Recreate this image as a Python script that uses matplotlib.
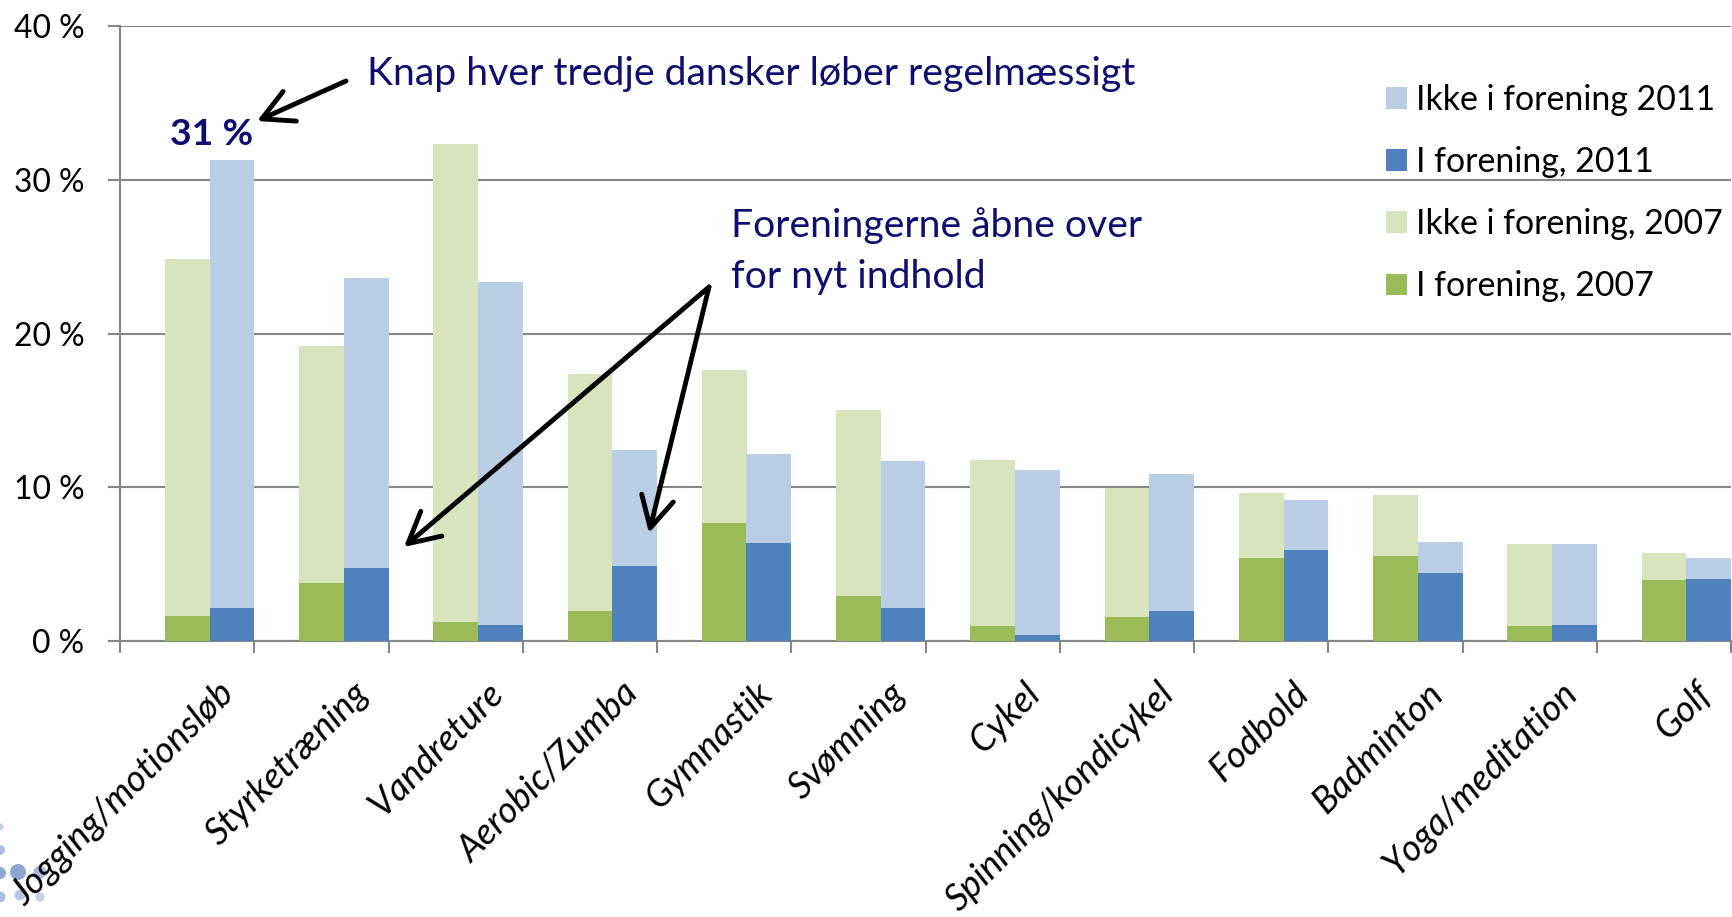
import matplotlib
matplotlib.use("Agg")
import matplotlib.pyplot as plt
import matplotlib.transforms as mtransforms
from matplotlib.patches import Patch, Circle
import numpy as np

# ---------------- data ----------------
categories = ["Jogging/motionsløb", "Styrketræning", "Vandreture", "Aerobic/Zumba",
              "Gymnastik", "Svømning", "Cykel", "Spinning/kondicykel", "Fodbold",
              "Badminton", "Yoga/meditation", "Golf"]
i_forening_2007 = [1.6, 3.8, 1.25, 1.95, 7.65, 2.95, 1.0, 1.55, 5.4, 5.5, 1.0, 4.0]
ikke_forening_2007 = [23.25, 15.4, 31.05, 15.4, 9.95, 12.05, 10.75, 8.4, 4.2, 4.0, 5.3, 1.75]
i_forening_2011 = [2.15, 4.75, 1.05, 4.9, 6.4, 2.15, 0.4, 1.95, 5.95, 4.4, 1.05, 4.05]
ikke_forening_2011 = [29.15, 18.85, 22.3, 7.55, 5.75, 9.55, 10.7, 8.9, 3.25, 2.05, 5.25, 1.35]
y_ticks = [0, 10, 20, 30, 40]
y_tick_labels = ["0 %", "10 %", "20 %", "30 %", "40 %"]
legend_labels = ["Ikke i forening 2011", "I forening, 2011",
                 "Ikke i forening, 2007", "I forening, 2007"]

C_LB = "#B9CDE5"
C_B = "#4F81BD"
C_LG = "#D7E4BD"
C_G = "#9BBB59"
GRID = "#868686"
NAVY = "#0E0E72"
FONT = ["Lato", "DejaVu Sans"]

W, H = 1732, 917
fig = plt.figure(figsize=(W / 100, H / 100), dpi=100)
plt.rcParams["font.family"] = FONT
renderer = fig.canvas.get_renderer()


def fit(s, target, **kw):
    t = fig.text(0, 0, s, fontsize=50, **kw)
    w = t.get_window_extent(renderer).width
    t.remove()
    return 50.0 * target / w


def fp(x, y):
    return (x / W, 1 - y / H)


ax_left, ax_right, ax_top, ax_bot = 120, 1731, 26, 641
ax = fig.add_axes([ax_left / W, (H - ax_bot) / H, (ax_right - ax_left) / W, (ax_bot - ax_top) / H])

x = np.arange(len(categories))
bw = 1.0 / 3.0
ax.bar(x + 0.5, i_forening_2007, width=bw, color=C_G, linewidth=0, zorder=3)
ax.bar(x + 0.5, ikke_forening_2007, width=bw, bottom=i_forening_2007, color=C_LG, linewidth=0, zorder=3)
ax.bar(x + 5 / 6, i_forening_2011, width=bw, color=C_B, linewidth=0, zorder=3)
ax.bar(x + 5 / 6, ikke_forening_2011, width=bw, bottom=i_forening_2011, color=C_LB, linewidth=0, zorder=3)

ax.set_xlim(0, len(categories))
ax.set_ylim(0, 40)
ax.set_yticks(y_ticks)
tick_fs = fit("40 %", 70.6)
ax.set_yticklabels(y_tick_labels, fontsize=tick_fs, color="black")
ax.yaxis.grid(True, color=GRID, linewidth=1.5, zorder=0)
ax.set_axisbelow(True)

cat_fs = tick_fs * 1.15
ax.set_xticks(np.arange(len(categories) + 1))
ax.set_xticklabels([])
ax.set_xticks(x + 2 / 3, minor=True)
ax.set_xticklabels(categories, minor=True, fontsize=cat_fs, style="italic",
                   rotation=45, ha="right", va="center", rotation_mode="anchor")
ax.tick_params(axis="x", which="major", length=8.6, width=1.5, color=GRID, direction="out")
ax.tick_params(axis="x", which="minor", length=0, pad=34)
ax.tick_params(axis="y", length=8.6, width=1.5, color=GRID, direction="out", pad=17)
off = mtransforms.ScaledTranslation(20 / 100, 0, fig.dpi_scale_trans)
for lbl in ax.get_xticklabels(minor=True):
    lbl.set_transform(lbl.get_transform() + off)

for s in ["top", "right"]:
    ax.spines[s].set_visible(False)
for s in ["left", "bottom"]:
    ax.spines[s].set_color(GRID)
    ax.spines[s].set_linewidth(1.5)

# legend
leg_fs = fit("Ikke i forening, 2007", 307)
leg_px = leg_fs * 100 / 72
handles = [Patch(facecolor=C_LB, edgecolor="none"), Patch(facecolor=C_B, edgecolor="none"),
           Patch(facecolor=C_LG, edgecolor="none"), Patch(facecolor=C_G, edgecolor="none")]
ax.legend(handles, legend_labels, loc="upper left", bbox_to_anchor=fp(1386, 84),
          bbox_transform=fig.transFigure, frameon=False, fontsize=leg_fs,
          handlelength=21 / leg_px, handleheight=21 / leg_px, handletextpad=9.5 / leg_px,
          labelspacing=0.89, borderpad=0, borderaxespad=0)

# annotations
a_fs = fit("Knap hver tredje dansker løber regelmæssigt", 770)
fig.text(*fp(367, 85), "Knap hver tredje dansker løber regelmæssigt", fontsize=a_fs,
         color=NAVY, ha="left", va="baseline")
b_fs = fit("Foreningerne åbne over", 411)
fig.text(*fp(731, 237), "Foreningerne åbne over", fontsize=b_fs, color=NAVY, ha="left", va="baseline")
fig.text(*fp(731, 288), "for nyt indhold", fontsize=b_fs, color=NAVY, ha="left", va="baseline")
c_fs = fit("31 %", 83, weight="bold")
fig.text(*fp(169.5, 145), "31 %", fontsize=c_fs, weight="bold", color=NAVY, ha="left", va="baseline")

arrow_kw = dict(arrowstyle="->,head_length=0.85,head_width=0.45", lw=3.5, color="black",
                shrinkA=0, shrinkB=0, mutation_scale=26)
for (sx, sy), (tx, ty) in [((346, 81), (257, 121)), ((709, 287), (404, 547)), ((709, 287), (649, 533))]:
    ax.annotate("", xy=fp(tx, ty), xytext=fp(sx, sy), xycoords="figure fraction",
                textcoords="figure fraction", arrowprops=arrow_kw, annotation_clip=False)

# decorative dots (logo fragment, bottom left)
for cx, cy, r, col in [(0, 827, 3.5, "#C3D1EA"), (0, 850, 5, "#A9BDE0"), (0, 873, 6, "#8FA7D3"),
                       (18, 872, 8, "#8FA7D3"), (40, 872, 6.5, "#A9BDE0"), (0, 897, 5.5, "#A9BDE0"),
                       (20, 895, 5.5, "#B6C7E5"), (40, 897, 4.5, "#C3D1EA")]:
    fig.add_artist(Circle((cx / 100, (H - cy) / 100), r / 100, transform=fig.dpi_scale_trans,
                          facecolor=col, edgecolor="none", zorder=0))

fig.savefig("out.png", dpi=100)
